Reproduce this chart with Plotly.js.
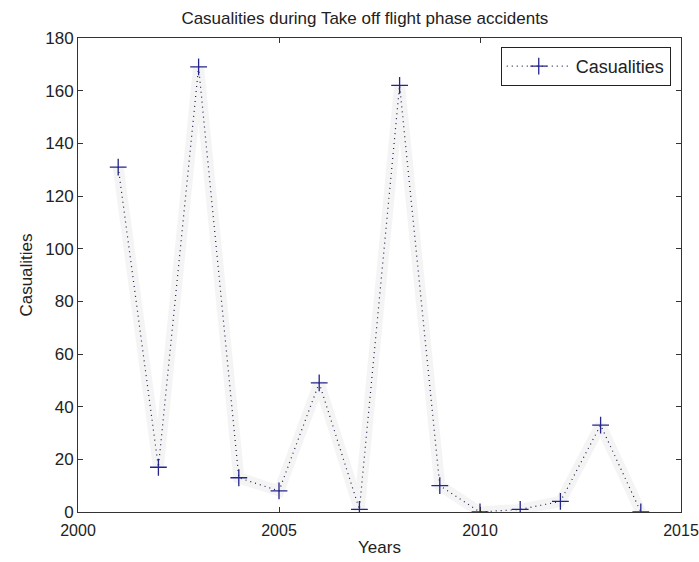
<!DOCTYPE html>
<html>
<head>
<meta charset="utf-8">
<script src="https://cdn.plot.ly/plotly-3.0.1.min.js"></script>
<style>
  html, body { margin: 0; padding: 0; background: #fff; }
  #chart { width: 699px; height: 562px; }
</style>
</head>
<body>
<div id="chart"></div>
<script>
// Casualties per year in take-off phase accidents
const years = [2001, 2002, 2003, 2004, 2005, 2006, 2007, 2008, 2009, 2010, 2011, 2012, 2013, 2014];
const casualties = [131, 17, 169, 13, 8, 49, 1, 162, 10, 0, 1, 4, 33, 0];

const xTicks = [2000, 2005, 2010, 2015];
const yTicks = [0, 20, 40, 60, 80, 100, 120, 140, 160, 180];

const font = "Liberation Sans, Arial, sans-serif";
const ink = "#222";

const traces = [
  {
    // faint grey halo beneath the dotted line
    x: years, y: casualties,
    type: "scatter", mode: "lines",
    line: { color: "rgba(205,205,205,0.22)", width: 11 },
    hoverinfo: "skip", showlegend: false
  },
  {
    x: years, y: casualties,
    type: "scatter", mode: "lines+markers",
    name: "Casualities",
    line: { color: "#20204a", width: 1.2, dash: "1px,4px" },
    marker: { symbol: "cross-thin", size: 12, color: "#24248a",
              line: { color: "#24248a", width: 1.3 } }
  }
];

const axisCommon = {
  showgrid: false, zeroline: false,
  showline: true, linecolor: "#333", linewidth: 1, mirror: "allticks",
  ticks: "inside", ticklen: 5, tickcolor: "#333",
  ticklabeloverflow: "allow",
  tickfont: { family: font, size: 17, color: ink }
};

const layout = {
  width: 699, height: 562,
  margin: { l: 78, r: 18, t: 38, b: 50 },
  paper_bgcolor: "#fff", plot_bgcolor: "#fff",
  font: { family: font, color: ink },
  title: { text: "Casualities during Take off flight phase accidents",
           font: { family: font, size: 17, color: ink },
           x: 0.522, xanchor: "center", y: 0.968, yanchor: "middle" },
  xaxis: Object.assign({}, axisCommon, {
    range: [2000, 2015], tickvals: xTicks, ticktext: xTicks.map(String),
    ticklabelstandoff: 4,
    tickfont: { family: font, size: 16, color: ink },
    title: { text: "Years", font: { family: font, size: 17, color: ink }, standoff: 2 }
  }),
  yaxis: Object.assign({}, axisCommon, {
    range: [0, 180], tickvals: yTicks, ticktext: yTicks.map(String),
    title: { text: "Casualities", font: { family: font, size: 17, color: ink }, standoff: 8 }
  }),
  legend: {
    x: 0.983, xanchor: "right", y: 0.981, yanchor: "top",
    bgcolor: "#fff", bordercolor: "#222", borderwidth: 1,
    itemwidth: 64,
    font: { family: font, size: 18, color: ink }
  },
  showlegend: true
};

Plotly.newPlot("chart", traces, layout, { displayModeBar: false, staticPlot: true });
</script>
</body>
</html>
